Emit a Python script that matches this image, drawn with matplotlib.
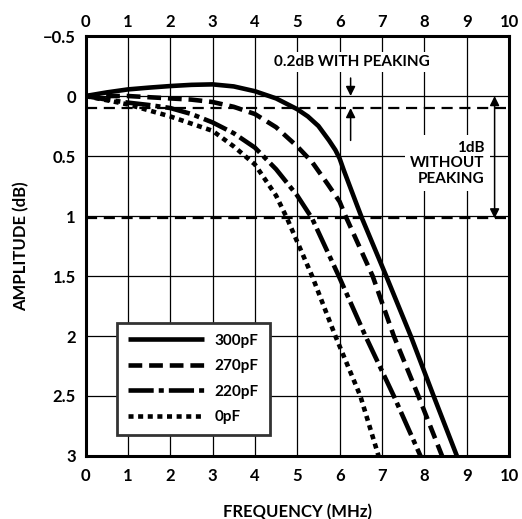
import numpy as np
import matplotlib
matplotlib.use('Agg')
import matplotlib.pyplot as plt

plt.rcParams['font.family'] = ['Lato', 'DejaVu Sans']
plt.rcParams['font.weight'] = 'bold'
plt.rcParams['axes.labelweight'] = 'bold'

# frequency (MHz) / amplitude (dB)
freq_300 = [0, 0.5, 1, 1.5, 2, 2.5, 3, 3.5, 4, 4.5, 5, 5.25, 5.5, 5.75, 5.9, 6.0, 6.1, 6.25, 6.4, 6.53, 7.1, 7.68, 8.22, 8.77]
amp_300 = [0, -0.03, -0.055, -0.07, -0.083, -0.093, -0.097, -0.08, -0.04, 0.02, 0.11, 0.17, 0.25, 0.37, 0.45, 0.52, 0.62, 0.76, 0.9, 1.02, 1.5, 2.0, 2.5, 3.0]

freq_270 = [0, 0.5, 1, 1.5, 2, 2.5, 3, 3.5, 4, 4.5, 5, 5.35, 5.73, 6.0, 6.14, 6.78, 7.28, 7.86, 8.42]
amp_270 = [0, 0.0, 0.0, 0.01, 0.02, 0.03, 0.05, 0.09, 0.15, 0.26, 0.42, 0.55, 0.74, 0.88, 1.0, 1.5, 2.0, 2.5, 3.0]

freq_220 = [0, 0.5, 1, 1.5, 2, 2.5, 3, 3.5, 4, 4.5, 5, 5.35, 5.98, 6.61, 7.28, 7.91]
amp_220 = [0, 0.03, 0.055, 0.075, 0.1, 0.15, 0.22, 0.31, 0.43, 0.61, 0.83, 1.02, 1.5, 2.0, 2.5, 3.0]

freq_0 = [0, 0.5, 1, 1.5, 2, 2.5, 3, 3.5, 4, 4.5, 4.76, 5.35, 5.9, 6.49, 6.92]
amp_0 = [0, 0.035, 0.07, 0.12, 0.17, 0.23, 0.29, 0.42, 0.57, 0.83, 1.02, 1.5, 2.0, 2.5, 3.0]

labels = ['300pF', '270pF', '220pF', '0pF']
xticks = np.arange(0, 11, 1)
yticks = [-0.5, 0, 0.5, 1, 1.5, 2, 2.5, 3]
ytick_labels = ['\u22120.5', '0', '0.5', '1', '1.5', '2', '2.5', '3']

peak_lines = [0.1, 1.02]

fig = plt.figure(figsize=(5.22, 5.19), dpi=100)
ax = fig.add_axes([0.1638, 0.1214, 0.8113, 0.8092])

ax.set_xlim(0, 10)
ax.set_ylim(3, -0.5)
ax.set_xticks(xticks)
ax.set_yticks(yticks)
ax.set_yticklabels(ytick_labels)
ax.tick_params(length=0, labelsize=12)
ax.tick_params(axis='x', pad=9)
ax.tick_params(axis='y', pad=7)
ax.grid(True, color='k', lw=0.9)
ax.set_axisbelow(True)
for s in ax.spines.values():
    s.set_linewidth(2.2)

top = ax.secondary_xaxis('top')
top.set_xticks(xticks)
top.tick_params(length=0, labelsize=12, pad=4)
top.spines['top'].set_visible(False)

for y in peak_lines:
    ax.axhline(y, color='k', lw=1.6, dashes=(5, 3), zorder=2)

lw = 3.3
ax.plot(freq_300, amp_300, color='k', lw=lw, solid_capstyle='butt', label=labels[0], zorder=3)
ax.plot(freq_270, amp_270, color='k', lw=lw, dashes=(3, 1.5), label=labels[1], zorder=3)
ax.plot(freq_220, amp_220, color='k', lw=lw, dashes=(5.5, 1.1, 1.1, 1.1), label=labels[2], zorder=3)
ax.plot(freq_0, amp_0, color='k', lw=lw, dashes=(1.1, 1.0), label=labels[3], zorder=3)

leg = ax.legend(loc='upper left', bbox_to_anchor=(0.0744, 0.3167), borderaxespad=0,
                fontsize=11, handlelength=5, handletextpad=0.7, labelspacing=0.75,
                borderpad=0.7, fancybox=False, framealpha=1)
leg.get_frame().set_edgecolor('#333333')
leg.get_frame().set_linewidth(2)
leg.set_zorder(5)

bb = dict(facecolor='white', edgecolor='none', pad=2)
ax.text(6.3, -0.285, '0.2dB WITH PEAKING', fontsize=11, ha='center', va='center', bbox=bb, zorder=4)
ax.text(9.43, 0.56, '1dB\nWITHOUT\nPEAKING', fontsize=11, ha='right', va='center',
        linespacing=1.15, bbox=dict(facecolor='white', edgecolor='none', pad=4), zorder=4)

ap = dict(arrowstyle='-|>', color='k', lw=1.1, mutation_scale=14, shrinkA=0, shrinkB=0)
ax.annotate('', xy=(6.26, 0), xytext=(6.26, -0.15), arrowprops=ap, zorder=4)
ax.annotate('', xy=(6.26, 0.1), xytext=(6.26, 0.37), arrowprops=ap, zorder=4)
ax.annotate('', xy=(9.66, 1.02), xytext=(9.66, 0), arrowprops=dict(arrowstyle='<|-|>', color='k', lw=1.1,
            mutation_scale=14, shrinkA=0, shrinkB=0), zorder=4)

ax.set_xlabel('FREQUENCY (MHz)', fontsize=12, labelpad=14)
ax.set_ylabel('AMPLITUDE (dB)', fontsize=12, labelpad=10)

fig.savefig('out.png', dpi=100)
